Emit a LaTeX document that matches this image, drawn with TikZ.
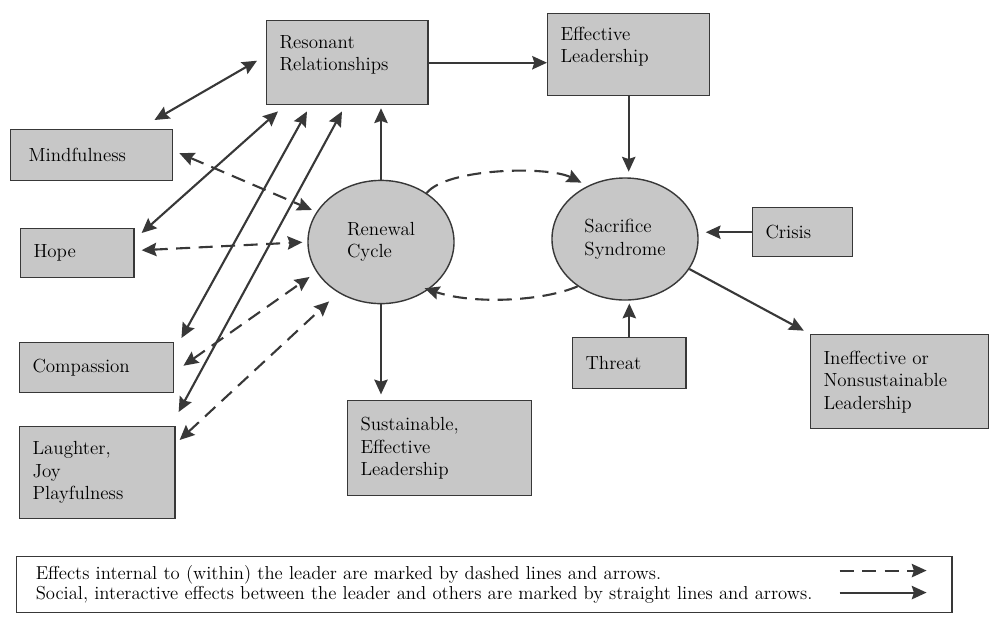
\documentclass[tikz,border=0pt]{standalone}
\usetikzlibrary{shapes.geometric, calc, arrows.meta, positioning}
\definecolor{ink}{gray}{0.22}
\definecolor{boxgray}{gray}{0.78}

\begin{document}
\begin{tikzpicture}[x=0.025cm, y=-0.025cm,
        font=\fontsize{13.5}{16}\selectfont,
        box/.style={draw=ink, fill=boxgray, line width=1pt, anchor=north west, align=left, inner xsep=0.32cm, inner ysep=0pt},
        blob/.style={ellipse, draw=ink, fill=boxgray, line width=1pt, align=left, inner sep=0pt},
        social/.style={draw=ink, line width=1.5pt, -{Stealth[length=10.5pt, width=9.5pt, inset=1.5pt]}},
        mutual/.style={social, {Stealth[length=10.5pt, width=9.5pt, inset=1.5pt]}-{Stealth[length=10.5pt, width=9.5pt, inset=1.5pt]}},
        internal/.style={dash pattern=on 10pt off 6pt}]
    \useasboundingbox (0,0) rectangle (989,621);
    %caselle
    \node[box, text width=3.39cm, minimum height=2.1cm, text depth=30pt] (res) at (266,20) {Resonant\\Relationships};
    \node[box, text width=3.41cm, minimum height=2.05cm, text depth=30pt] (eff) at (547,13) {Effective\\Leadership};
    \node[box, inner xsep=0.45cm, text width=3.15cm, minimum height=1.275cm] (mind) at (10,129) {Mindfulness};
    \node[box, text width=2.19cm, minimum height=1.225cm] (hope) at (20,228) {Hope};
    \node[box, text width=3.21cm, minimum height=1.25cm] (comp) at (19,342) {Compassion};
    \node[box, text width=3.24cm, minimum height=2.3cm] (laugh) at (19,426) {Laughter,\\Joy\\Playfulness};
    \node[box, text width=3.96cm, minimum height=2.375cm] (sust) at (347,400) {Sustainable,\\Effective\\Leadership};
    \node[box, text width=2.19cm, minimum height=1.275cm] (thr) at (572,337) {Threat};
    \node[box, text width=1.86cm, minimum height=1.225cm] (cri) at (752,207) {Crisis};
    \node[box, text width=3.81cm, minimum height=2.35cm] (ine) at (810,334) {Ineffective or\\Nonsustainable\\Leadership};
    %ellissi
    \node[blob, minimum width=3.65cm, minimum height=3.08cm] (ren) at (381,242) {Renewal\\Cycle};
    \node[blob, minimum width=3.65cm, minimum height=3.05cm] (sac) at (625,239) {Sacrifice\\Syndrome};
    %legenda
    \node[box, fill=white, line width=0.8pt, text width=22.42cm, minimum height=1.4cm, inner xsep=0.48cm,
        font=\fontsize{13.3}{14.5}\selectfont] (key) at (16,556)
        {Effects internal to (within) the leader are marked by dashed lines and arrows.\\
         Social, interactive effects between the leader and others are marked by straight lines and arrows.};
    \draw[social, internal] ($(key.east)+(-113,-14)$) -- ($(key.east)+(-26,-14)$);
    \draw[social] ($(key.east)+(-113,8)$) -- ($(key.east)+(-26,8)$);
    %frecce sociali
    \draw[social] (res.east) -- (res.east -| eff.west);
    \draw[social, shorten >=4pt] (eff.south) -- (eff.south |- sac.north);
    \draw[social, shorten >=2pt] (ren.north) -- (ren.north |- res.south);
    \draw[social, shorten >=4pt] (ren.south) -- (ren.south |- sust.north);
    \draw[social, shorten >=5pt] (cri.west) -- (cri.west -| sac.east);
    \draw[social, shorten >=2pt] (thr.north) -- (thr.north |- sac.south);
    \draw[social, shorten >=5pt] (sac.-25) -- (ine.north west);
    \draw[mutual] ($(mind.north east)+(-19,-9)$) -- ($(res.west)+(-9,-2)$);
    \draw[mutual] ($(hope.north east)+(7,5)$) -- ($(res.south west)+(12,6)$);
    \draw[mutual] ($(comp.north east)+(7,-4)$) -- ($(res.south west)+(41,6)$);
    \draw[mutual] ($(laugh.north east)+(3,-14)$) -- ($(res.south west)+(76,6)$);
    %frecce interne
    \draw[mutual, internal, shorten >=3.5pt] ($(mind.east)+(6,-2)$) -- (ren.155);
    \draw[mutual, internal, shorten >=3.5pt] ($(hope.east)+(7,-3)$) -- (ren.180);
    \draw[mutual, internal, shorten >=6pt] ($(comp.east)+(9,-2)$) -- (ren.205);
    \draw[mutual, internal, shorten >=9pt] ($(laugh.north east)+(4,14)$) -- (ren.230);
    \draw[social, internal, shorten >=5pt] (ren.47) .. controls +(20,-25) and +(-40,-20) .. (sac.125);
    \draw[social, internal, shorten >=-3pt] (sac.225) .. controls +(-35,15) and +(45,15) .. (ren.-45);
\end{tikzpicture}
\end{document}
